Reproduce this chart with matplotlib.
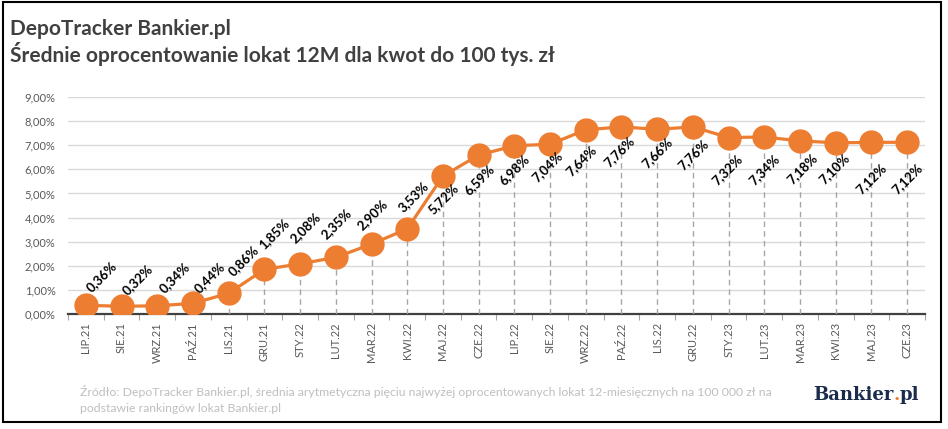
import matplotlib.pyplot as plt
from matplotlib.patches import Rectangle

## Data
months = ["LIP.21", "SIE.21", "WRZ.21", "PAŹ.21", "LIS.21", "GRU.21",
          "STY.22", "LUT.22", "MAR.22", "KWI.22", "MAJ.22", "CZE.22",
          "LIP.22", "SIE.22", "WRZ.22", "PAŹ.22", "LIS.22", "GRU.22",
          "STY.23", "LUT.23", "MAR.23", "KWI.23", "MAJ.23", "CZE.23"]
rates = [0.36, 0.32, 0.34, 0.44, 0.86, 1.85, 2.08, 2.35, 2.90, 3.53, 5.72, 6.59,
         6.98, 7.04, 7.64, 7.76, 7.66, 7.76, 7.32, 7.34, 7.18, 7.10, 7.12, 7.12]
y_ticks = [0, 1, 2, 3, 4, 5, 6, 7, 8, 9]

## label offsets in pixels (dx, dy up) - hand placed like in the original
label_dx = [16, 16, 17, 17, 15, 10, 5, 1, 1, 6, 0, 1, 0, -3, -4, -2, 0, 0, -1, 0, 2, -1, 0, 0]
label_dy = [29, 27, 28, 26, 33, 36, 36, 34, 29, 32, -23, -25, -24, -22, -31, -25, -23, -28,
            -32, -33, -28, -26, -36, -36]

ORANGE = "#ED7D31"
GREY_TXT = "#595959"
NAVY = "#1a2b4c"

plt.rcParams["font.family"] = ["Lato", "DejaVu Sans"]

W, H = 948, 429
fig = plt.figure(figsize=(W / 100, H / 100), dpi=100)
ax = fig.add_axes([68 / W, 1 - 314 / H, 857 / W, 217 / H])

x = list(range(len(months)))

## dashed drop lines
ax.vlines(x, 0, rates, colors="#a6a6a6", linestyles=(0, (4, 3)), linewidth=1, zorder=2)
ax.plot(x, rates, color=ORANGE, linewidth=2.3, marker="o", markersize=16.5,
        markerfacecolor=ORANGE, markeredgecolor=ORANGE, zorder=3)

for i, v in enumerate(rates):
    ax.annotate(f"{v:.2f}%".replace(".", ","), (i, v),
                xytext=(label_dx[i] * 0.72, label_dy[i] * 0.72), textcoords="offset points",
                ha="center", va="center", rotation=45, fontsize=9.5,
                fontweight="bold", color="black", zorder=4)

ax.set_xlim(-0.5, len(months) - 0.5)
ax.set_ylim(0, 9)
ax.set_yticks(y_ticks)
ax.set_yticklabels([f"{t},00%" for t in y_ticks], fontsize=8, color=GREY_TXT)
ax.set_xticks(x)
ax.set_xticklabels(months, rotation=90, fontsize=8, color=GREY_TXT)
ax.set_xticks([k - 0.5 for k in range(len(months) + 1)], minor=True)
ax.tick_params(axis="y", length=0, pad=9)
ax.tick_params(axis="x", which="major", length=0, pad=6)
ax.tick_params(axis="x", which="minor", length=4, color="#a6a6a6", width=0.8)
ax.grid(axis="y", color="#d9d9d9", linewidth=1)
ax.set_axisbelow(True)
for s in ["top", "right", "left"]:
    ax.spines[s].set_visible(False)
ax.spines["bottom"].set_color("#404040")
ax.spines["bottom"].set_linewidth(1.6)
ax.spines["bottom"].set_zorder(1)

## titles
fig.text(10 / W, 1 - 35 / H, "DepoTracker Bankier.pl", fontsize=15,
         fontweight="bold", color="#404040", va="baseline")
fig.text(10 / W, 1 - 62 / H, "Średnie oprocentowanie lokat 12M dla kwot do 100 tys. zł",
         fontsize=15, fontweight="bold", color="#404040", va="baseline")

## footer
fig.text(80 / W, 1 - 392 / H,
         "Źródło: DepoTracker Bankier.pl, średnia arytmetyczna pięciu najwyżej oprocentowanych lokat 12-miesięcznych na 100 000 zł na",
         fontsize=8.8, color="#bfbfbf", va="center")
fig.text(80 / W, 1 - 409 / H, "podstawie rankingów lokat Bankier.pl",
         fontsize=8.8, color="#bfbfbf", va="center")

## logo: Bankier + orange dot + pl
renderer = fig.canvas.get_renderer()
logo_kw = dict(fontsize=13, fontweight="bold", family="DejaVu Serif", va="baseline")
t1 = fig.text(813 / W, 1 - 400 / H, "Bankier", color=NAVY, **logo_kw)
x1 = t1.get_window_extent(renderer).x1 / W
t2 = fig.text(x1, 1 - 400 / H, ".", color=ORANGE, **logo_kw)
x2 = t2.get_window_extent(renderer).x1 / W
fig.text(x2, 1 - 400 / H, "pl", color=NAVY, **logo_kw)

## outer frame
fig.patches.append(Rectangle((3 / W, 7 / H), 938 / W, 420 / H, transform=fig.transFigure,
                             fill=False, edgecolor="black", linewidth=1.5))

fig.savefig("out.png", dpi=100)
